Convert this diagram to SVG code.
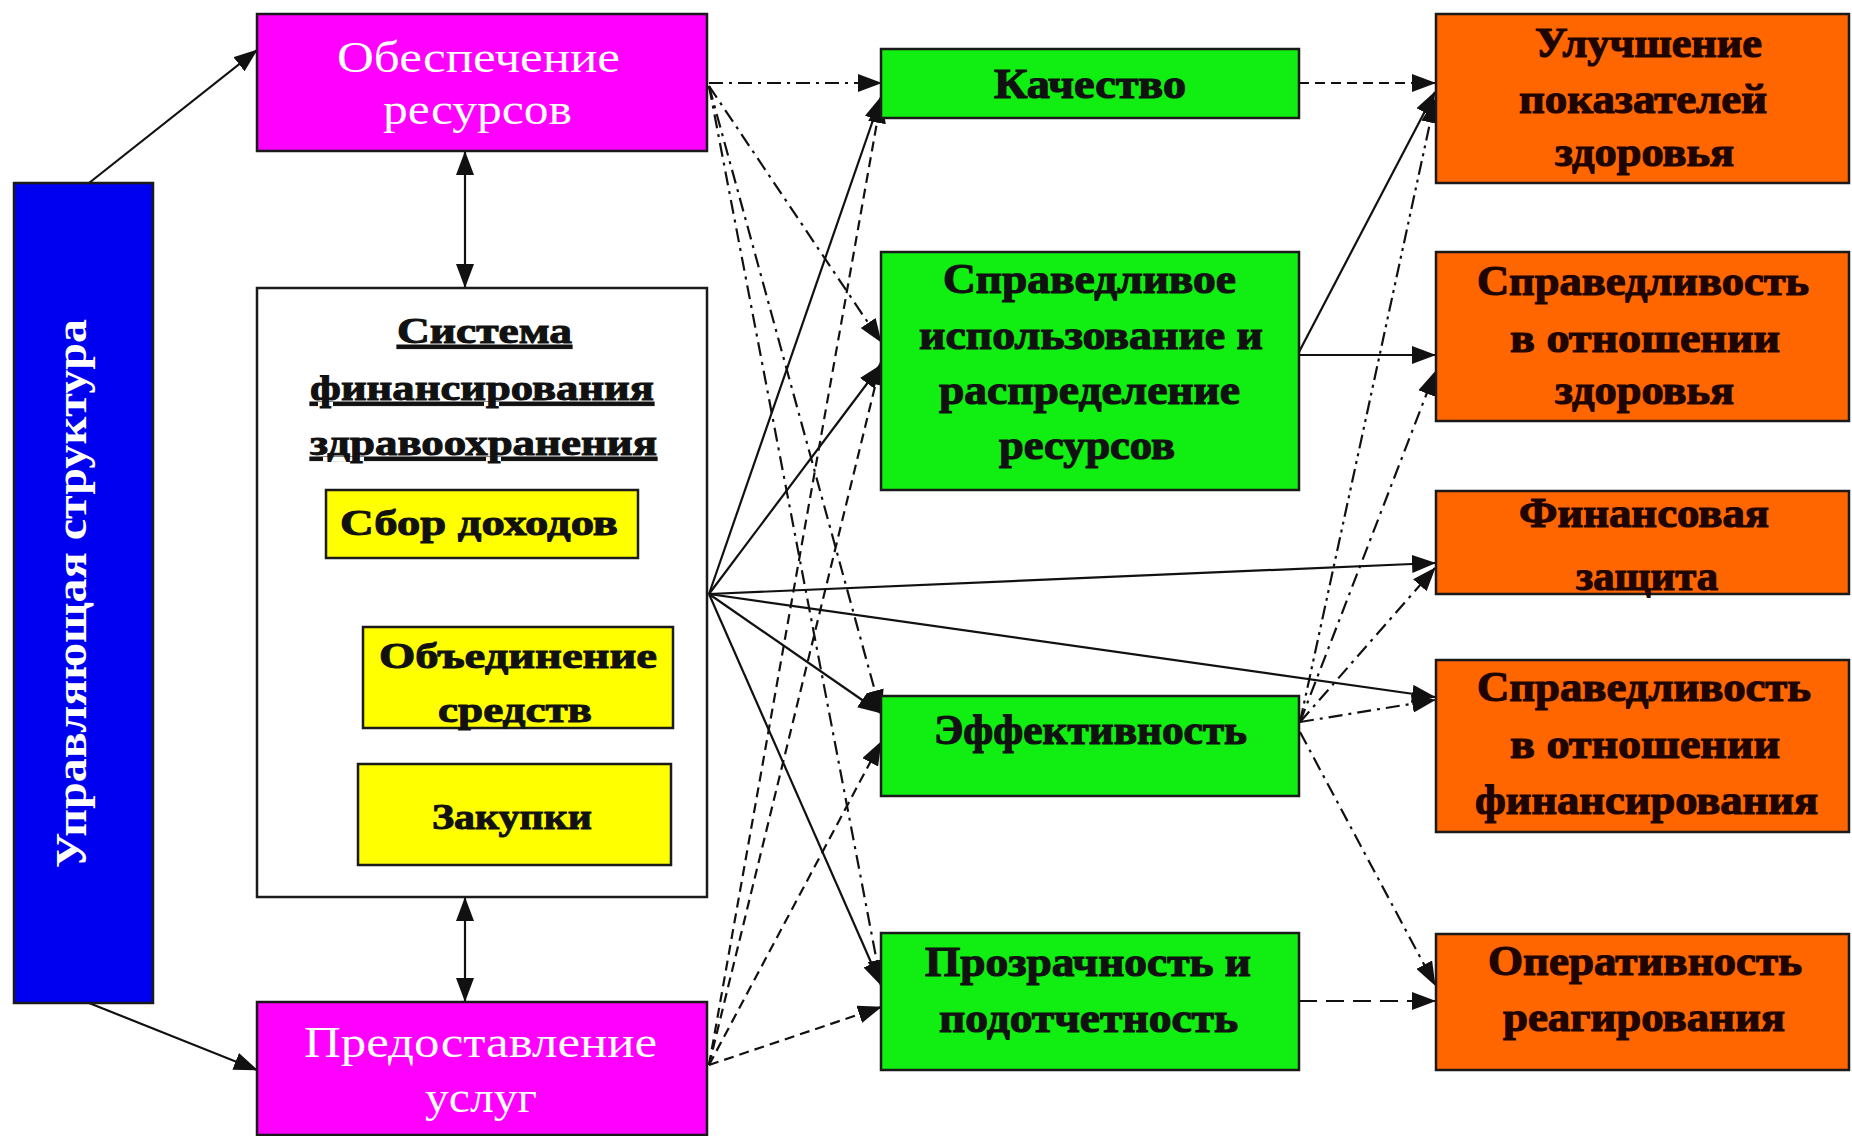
<svg xmlns="http://www.w3.org/2000/svg" width="1852" height="1136" viewBox="0 0 1852 1136">
<defs>
<style>
.box{stroke:#1a1a1a;stroke-width:2.5}
.mag{fill:#ff00ff}
.blue{fill:#0000f0}
.yel{fill:#ffff00}
.grn{fill:#11ee11}
.org{fill:#ff6600}
.sys{fill:#ffffff}
.wt{font-family:"Liberation Serif","Times New Roman",serif;fill:#ffffff;font-size:44px}
.bt{font-family:"Liberation Serif","Times New Roman",serif;fill:#111111;stroke:#111111;stroke-width:1;font-weight:bold;font-size:36px}
.gt{font-family:"Liberation Serif","Times New Roman",serif;fill:#111111;stroke:#111111;stroke-width:1.2;font-weight:bold;font-size:42px}
.ot{font-family:"Liberation Serif","Times New Roman",serif;fill:#1e0500;stroke:#1e0500;stroke-width:1.2;font-weight:bold;font-size:42px}
.ln{fill:none;stroke:#111111;stroke-width:2.2}
.solid{marker-end:url(#ah)}
.dd{stroke-dasharray:14 6 3 6;marker-end:url(#ah)}
.ddd{stroke-dasharray:14 5 3 5 3 5;marker-end:url(#ah)}
.dsh{stroke-dasharray:10 6;marker-end:url(#ah)}
.ldsh{stroke-dasharray:18 9;marker-end:url(#ah)}
.both{marker-start:url(#ahs);marker-end:url(#ah)}
</style>
<marker id="ah" markerUnits="userSpaceOnUse" markerWidth="24" markerHeight="18" refX="23" refY="9" orient="auto">
<path d="M0,0 L24,9 L0,18 z" fill="#111111"/>
</marker>
<marker id="ahs" markerUnits="userSpaceOnUse" markerWidth="24" markerHeight="18" refX="23" refY="9" orient="auto-start-reverse">
<path d="M0,0 L24,9 L0,18 z" fill="#111111"/>
</marker>
</defs>
<rect x="0" y="0" width="1852" height="1136" fill="#ffffff"/>

<g id="connectors">
<line class="ln solid" x1="89" y1="183" x2="257" y2="50"/>
<line class="ln solid" x1="89" y1="1003" x2="257" y2="1070"/>
<line class="ln both" x1="465" y1="152" x2="465" y2="287"/>
<line class="ln both" x1="465" y1="898" x2="465" y2="1001"/>
<path class="ln solid" d="M326,541 C275,556 270,680 362,694"/>
<path class="ln solid" d="M360,697 C272,712 272,815 358,830"/>
<line class="ln solid" x1="709" y1="594" x2="881" y2="97"/>
<line class="ln solid" x1="709" y1="594" x2="881" y2="365"/>
<line class="ln solid" x1="709" y1="594" x2="1435" y2="563"/>
<line class="ln solid" x1="709" y1="594" x2="1435" y2="697"/>
<line class="ln solid" x1="709" y1="594" x2="881" y2="713"/>
<line class="ln solid" x1="709" y1="594" x2="881" y2="985"/>
<line class="ln dd" x1="709" y1="83" x2="881" y2="83"/>
<line class="ln dd" x1="709" y1="86" x2="881" y2="342"/>
<line class="ln dd" x1="709" y1="86" x2="881" y2="713"/>
<line class="ln dd" x1="709" y1="86" x2="881" y2="983"/>
<line class="ln dsh" x1="709" y1="1065" x2="881" y2="100"/>
<line class="ln dsh" x1="709" y1="1065" x2="881" y2="362"/>
<line class="ln dsh" x1="709" y1="1065" x2="881" y2="742"/>
<line class="ln dsh" x1="709" y1="1065" x2="881" y2="1007"/>
<line class="ln dsh" x1="1299" y1="83" x2="1435" y2="83"/>
<line class="ln solid" x1="1299" y1="352" x2="1435" y2="92"/>
<line class="ln solid" x1="1299" y1="355" x2="1435" y2="355"/>
<line class="ln ldsh" x1="1299" y1="1001" x2="1435" y2="1001"/>
<line class="ln ddd" x1="1300" y1="722" x2="1435" y2="100"/>
<line class="ln dd" x1="1300" y1="722" x2="1435" y2="372"/>
<line class="ln dd" x1="1300" y1="722" x2="1435" y2="568"/>
<line class="ln dd" x1="1300" y1="722" x2="1435" y2="700"/>
<line class="ln dd" x1="1300" y1="732" x2="1435" y2="985"/>
</g>

<g id="governance">
<rect class="box blue" x="14" y="183" width="139" height="820"/>
<text class="wt" font-weight="bold" font-size="40" transform="translate(86,868) rotate(-90)" x="0" y="0" textLength="549" lengthAdjust="spacingAndGlyphs">Управляющая структура</text>
</g>

<g id="resources">
<rect class="box mag" x="257" y="14" width="450" height="137"/>
<text class="wt" x="337" y="72" textLength="283" lengthAdjust="spacingAndGlyphs">Обеспечение</text>
<text class="wt" x="383" y="124" textLength="189" lengthAdjust="spacingAndGlyphs">ресурсов</text>
</g>

<g id="financing">
<rect class="box sys" x="257" y="288" width="450" height="609"/>
<text class="bt" text-decoration="underline" x="397" y="343" textLength="175" lengthAdjust="spacingAndGlyphs">Система</text>
<text class="bt" text-decoration="underline" x="310" y="400" textLength="344" lengthAdjust="spacingAndGlyphs">финансирования</text>
<text class="bt" text-decoration="underline" x="310" y="455" textLength="347" lengthAdjust="spacingAndGlyphs">здравоохранения</text>
</g>

<g id="collection">
<rect class="box yel" x="326" y="490" width="312" height="68"/>
<text class="bt" x="340" y="535" textLength="278" lengthAdjust="spacingAndGlyphs">Сбор доходов</text>
</g>

<g id="pooling">
<rect class="box yel" x="363" y="627" width="310" height="101"/>
<text class="bt" x="379" y="668" textLength="278" lengthAdjust="spacingAndGlyphs">Объединение</text>
<text class="bt" x="438" y="722" textLength="154" lengthAdjust="spacingAndGlyphs">средств</text>
</g>

<g id="purchasing">
<rect class="box yel" x="358" y="764" width="313" height="101"/>
<text class="bt" x="432" y="829" textLength="160" lengthAdjust="spacingAndGlyphs">Закупки</text>
</g>

<g id="delivery">
<rect class="box mag" x="257" y="1002" width="450" height="133"/>
<text class="wt" x="304" y="1057" textLength="353" lengthAdjust="spacingAndGlyphs">Предоставление</text>
<text class="wt" x="425" y="1112" textLength="112" lengthAdjust="spacingAndGlyphs">услуг</text>
</g>

<g id="quality">
<rect class="box grn" x="881" y="49" width="418" height="69"/>
<text class="gt" x="994" y="98" textLength="192" lengthAdjust="spacingAndGlyphs">Качество</text>
</g>

<g id="equity-use">
<rect class="box grn" x="881" y="252" width="418" height="238"/>
<text class="gt" x="943" y="293" textLength="293" lengthAdjust="spacingAndGlyphs">Справедливое</text>
<text class="gt" x="919" y="349" textLength="344" lengthAdjust="spacingAndGlyphs">использование и</text>
<text class="gt" x="939" y="404" textLength="301" lengthAdjust="spacingAndGlyphs">распределение</text>
<text class="gt" x="999" y="459" textLength="176" lengthAdjust="spacingAndGlyphs">ресурсов</text>
</g>

<g id="efficiency">
<rect class="box grn" x="881" y="696" width="418" height="100"/>
<text class="gt" x="934" y="744" textLength="313" lengthAdjust="spacingAndGlyphs">Эффективность</text>
</g>

<g id="transparency">
<rect class="box grn" x="881" y="933" width="418" height="137"/>
<text class="gt" x="925" y="976" textLength="326" lengthAdjust="spacingAndGlyphs">Прозрачность и</text>
<text class="gt" x="939" y="1032" textLength="299" lengthAdjust="spacingAndGlyphs">подотчетность</text>
</g>

<g id="health">
<rect class="box org" x="1436" y="14" width="413" height="169"/>
<text class="ot" x="1535" y="57" textLength="227" lengthAdjust="spacingAndGlyphs">Улучшение</text>
<text class="ot" x="1519" y="113" textLength="248" lengthAdjust="spacingAndGlyphs">показателей</text>
<text class="ot" x="1555" y="166" textLength="179" lengthAdjust="spacingAndGlyphs">здоровья</text>
</g>

<g id="equity-health">
<rect class="box org" x="1436" y="252" width="413" height="169"/>
<text class="ot" x="1477" y="295" textLength="332" lengthAdjust="spacingAndGlyphs">Справедливость</text>
<text class="ot" x="1510" y="352" textLength="270" lengthAdjust="spacingAndGlyphs">в отношении</text>
<text class="ot" x="1555" y="404" textLength="179" lengthAdjust="spacingAndGlyphs">здоровья</text>
</g>

<g id="protection">
<rect class="box org" x="1436" y="491" width="413" height="103"/>
<text class="ot" x="1519" y="527" textLength="250" lengthAdjust="spacingAndGlyphs">Финансовая</text>
<text class="ot" x="1576" y="590" textLength="142" lengthAdjust="spacingAndGlyphs">защита</text>
</g>

<g id="equity-finance">
<rect class="box org" x="1436" y="660" width="413" height="172"/>
<text class="ot" x="1477" y="701" textLength="334" lengthAdjust="spacingAndGlyphs">Справедливость</text>
<text class="ot" x="1510" y="758" textLength="270" lengthAdjust="spacingAndGlyphs">в отношении</text>
<text class="ot" x="1475" y="814" textLength="343" lengthAdjust="spacingAndGlyphs">финансирования</text>
</g>

<g id="responsiveness">
<rect class="box org" x="1436" y="934" width="413" height="136"/>
<text class="ot" x="1488" y="975" textLength="314" lengthAdjust="spacingAndGlyphs">Оперативность</text>
<text class="ot" x="1503" y="1031" textLength="282" lengthAdjust="spacingAndGlyphs">реагирования</text>
</g>
</svg>
